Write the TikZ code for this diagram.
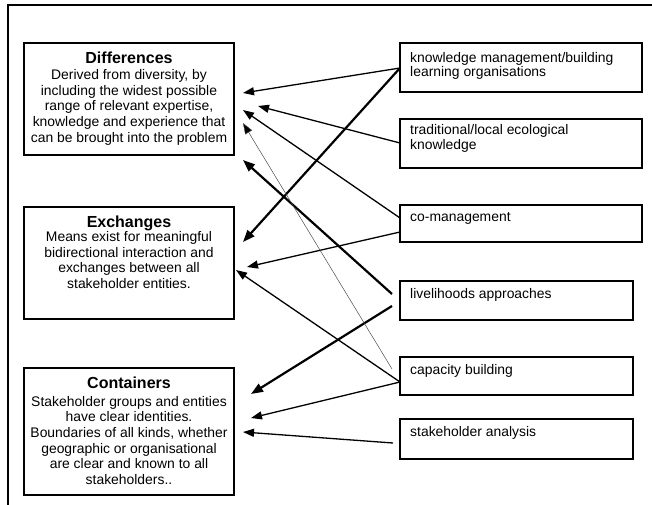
\documentclass[tikz,border=0pt]{standalone}
\usepackage{fontspec}
\setmainfont{Liberation Sans}
\usetikzlibrary{arrows.meta,calc}
\begin{document}
\begin{tikzpicture}[x=1pt,y=-1pt,
 box/.style={draw,line width=1.6pt,inner sep=0pt,outer sep=0pt},
 ttl/.style={font=\fontsize{16}{18}\selectfont\bfseries,inner sep=0pt,anchor=base},
 body/.style={font=\fontsize{13.9}{15.6}\selectfont,align=center,inner sep=0pt,anchor=north},
 rtxt/.style={font=\fontsize{13.9}{14.6}\selectfont,align=left,inner sep=0pt,anchor=north west},
 arr/.style={line width=1.3pt,-{Triangle[length=11pt,width=8pt]}},
 tarr/.style={line width=2.2pt,-{Triangle[length=12pt,width=9pt]}},
 harr/.style={line width=0.5pt,draw=black!70,-{Triangle[length=11pt,width=8pt,fill=black]}},
]
\useasboundingbox (0,0) rectangle (652,505);
\draw[line width=2pt] (8,507) -- (8,5) -- (654,5);

% left boxes
\node[box,minimum width=210pt,minimum height=112pt] (D) at (129,99) {};
\node[box,minimum width=210pt,minimum height=112pt] (E) at (129,263) {};
\node[box,minimum width=210pt,minimum height=127pt] (Cn) at (129,431.5) {};

\node[ttl] (Dt) at (129,63.7) {Differences};
\node[body] (Db) at (129,69.5) {Derived from diversity, by\\including the widest possible\\range of relevant expertise,\\knowledge and experience that\\can be brought into the problem};
\node[ttl] (Et) at (129,227.7) {Exchanges};
\node[body] (Eb) at (129,231.5) {Means exist for meaningful\\bidirectional interaction and\\exchanges between all\\stakeholder entities.};
\node[ttl] (Ct) at (129,388.7) {Containers};
\node[body] (Cb) at (129,396) {Stakeholder groups and entities\\have clear identities.\\Boundaries of all kinds, whether\\geographic or organisational\\are clear and known to all\\stakeholders..};

% right boxes
\node[box,minimum width=242pt,minimum height=49pt] (K) at (521,67.5) {};
\node[box,minimum width=242pt,minimum height=49pt] (T) at (521,143.5) {};
\node[box,minimum width=242pt,minimum height=37pt] (CM) at (521,223.5) {};
\node[box,minimum width=233pt,minimum height=39pt] (L) at (516.5,300.5) {};
\node[box,minimum width=233pt,minimum height=38pt] (C) at (516.5,376) {};
\node[box,minimum width=233pt,minimum height=40pt] (S) at (516.5,439) {};

\node[rtxt] (Kt) at (410,52) {knowledge management/building\\learning organisations};
\node[rtxt] (Tt) at (410,124.5) {traditional/local ecological\\knowledge};
\node[rtxt] (CMt) at (410,212.5) {co-management};
\node[rtxt] (Lt) at (410,288.5) {livelihoods approaches};
\node[rtxt] (Ct2) at (410,364.5) {capacity building};
\node[rtxt] (St) at (410,426.5) {stakeholder analysis};

% connectors
\draw[arr] ($(K.north west)+(0,25)$) -- ($(D.north east)+(9,50)$);
\draw[tarr] ($(K.north west)+(0,25)$) -- ($(E.north east)+(9,35)$);
\draw[arr] ($(T.north west)+(0,24)$) -- ($(D.north east)+(24,63)$);
\draw[arr] ($(CM.north west)+(0,13)$) -- ($(D.north east)+(9,67)$);
\draw[arr] ($(CM.north west)+(0,27)$) -- ($(E.north east)+(13,60)$);
\draw[tarr] ($(L.north west)+(-8,13)$) -- ($(D.north east)+(9,117)$);
\draw[tarr] ($(L.north west)+(-8,25)$) -- ($(Cn.north east)+(17,26)$);
\draw[harr] ($(C.north west)+(-8,12)$) -- ($(D.north east)+(9,80)$);
\draw[arr] ($(C.north west)+(0,25)$) -- ($(E.north east)+(2,63)$);
\draw[arr] ($(C.north west)+(0,25)$) -- ($(Cn.north east)+(17,50)$);
\draw[arr] ($(S.north west)+(-7,24)$) -- ($(Cn.north east)+(9,64)$);
\end{tikzpicture}
\end{document}
